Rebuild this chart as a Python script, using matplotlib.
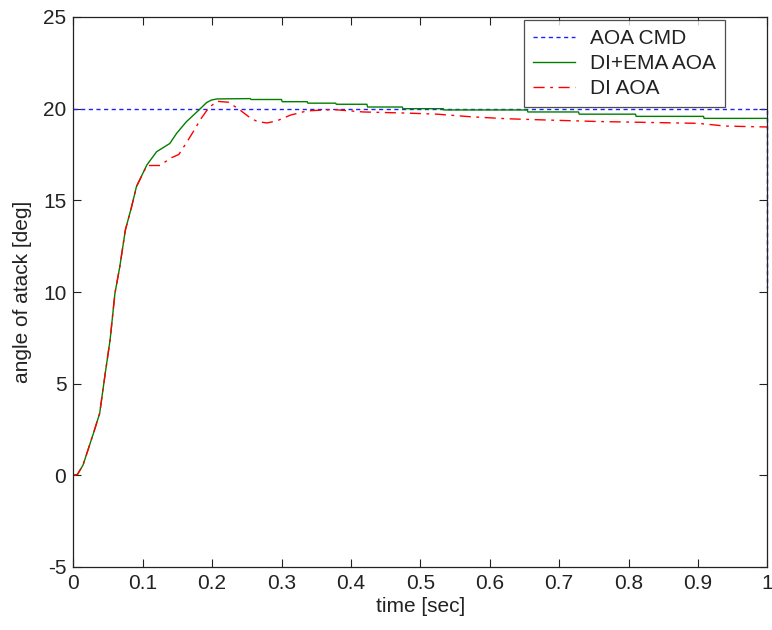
import numpy as np
import matplotlib
matplotlib.use("Agg")
import matplotlib.pyplot as plt

# AOA command (drops at the final sample)
t_cmd = [0.0, 1.0, 1.0]
aoa_cmd = [20.0, 20.0, 10.2]

# DI+EMA response
t_ema = [0.0, 0.006, 0.014, 0.029, 0.038, 0.046, 0.053, 0.060, 0.067, 0.075,
         0.084, 0.091, 0.106, 0.120, 0.139, 0.149, 0.163, 0.180, 0.192, 0.199,
         0.207, 0.255, 0.256, 0.300, 0.301, 0.337, 0.338, 0.378, 0.379, 0.423,
         0.424, 0.474, 0.475, 0.533, 0.534, 0.654, 0.655, 0.728, 0.729, 0.810,
         0.811, 0.908, 0.909, 1.0]
aoa_ema = [0.0, 0.05, 0.56, 2.29, 3.38, 5.56, 7.38, 9.93, 11.38, 13.38,
           14.65, 15.75, 16.93, 17.65, 18.10, 18.66, 19.29, 19.89, 20.33, 20.47,
           20.53, 20.55, 20.50, 20.50, 20.38, 20.38, 20.30, 20.30, 20.24, 20.24,
           20.09, 20.09, 20.00, 20.00, 19.93, 19.93, 19.82, 19.82, 19.70, 19.70,
           19.58, 19.58, 19.47, 19.47]

# DI response
t_di = [0.0, 0.006, 0.014, 0.029, 0.038, 0.046, 0.053, 0.060, 0.067, 0.075,
        0.084, 0.091, 0.106, 0.125, 0.140, 0.152, 0.164, 0.176, 0.183, 0.195,
        0.207, 0.224, 0.241, 0.255, 0.265, 0.279, 0.293, 0.313, 0.337, 0.375,
        0.418, 0.480, 0.524, 0.572, 0.625, 0.683, 0.755, 0.900, 0.940, 1.0]
aoa_di = [0.0, 0.05, 0.56, 2.29, 3.38, 5.56, 7.38, 9.93, 11.38, 13.38,
          14.65, 15.75, 16.90, 16.90, 17.30, 17.50, 18.20, 18.94, 19.40, 20.04,
          20.40, 20.35, 19.90, 19.50, 19.30, 19.22, 19.33, 19.65, 19.88, 19.95,
          19.82, 19.76, 19.70, 19.56, 19.45, 19.38, 19.30, 19.20, 19.05, 19.00]

plt.rcParams['font.family'] = ['Liberation Sans', 'DejaVu Sans']
plt.rcParams['axes.unicode_minus'] = False
txt = '#222222'
fs = 15

fig = plt.figure(figsize=(7.72, 6.30), dpi=100, facecolor='white')
ax = fig.add_axes([73.3 / 772, 1 - 567 / 630, 694 / 772, 550 / 630])

ax.plot(t_cmd, aoa_cmd, color='#2020ff', lw=1.0, linestyle=(0, (3, 2.5)),
        label='AOA CMD', clip_on=False)
ax.plot(t_ema, aoa_ema, color='#008000', lw=1.0, label='DI+EMA AOA')
ax.plot(t_di, aoa_di, color='#ff0000', lw=1.0, linestyle=(0, (8, 4, 2, 4)),
        label='DI AOA')

ax.set_xlim(0, 1)
ax.set_ylim(-5, 25)
ax.set_xticks(np.arange(0, 1.01, 0.1))
ax.set_xticklabels(['0', '0.1', '0.2', '0.3', '0.4', '0.5', '0.6', '0.7',
                    '0.8', '0.9', '1'])
ax.set_yticks(np.arange(-5, 26, 5))
ax.tick_params(direction='in', length=5.5, width=0.8, top=True, right=True,
               labelsize=fs, colors=txt, pad=5)
for sp in ax.spines.values():
    sp.set_linewidth(0.9)
    sp.set_color(txt)

ax.set_xlabel('time [sec]', fontsize=fs, color=txt, labelpad=3)
ax.set_ylabel('angle of atack [deg]', fontsize=fs, color=txt, labelpad=8)

leg = ax.legend(loc='upper right', bbox_to_anchor=(0.939, 0.9945),
                borderaxespad=0, fontsize=fs, frameon=True, fancybox=False,
                edgecolor=txt, handlelength=2.0, handletextpad=0.7,
                labelspacing=0.28, borderpad=0.45)
leg.get_frame().set_linewidth(0.9)
for t in leg.get_texts():
    t.set_color(txt)

fig.savefig('out.png', dpi=100, facecolor='white')
